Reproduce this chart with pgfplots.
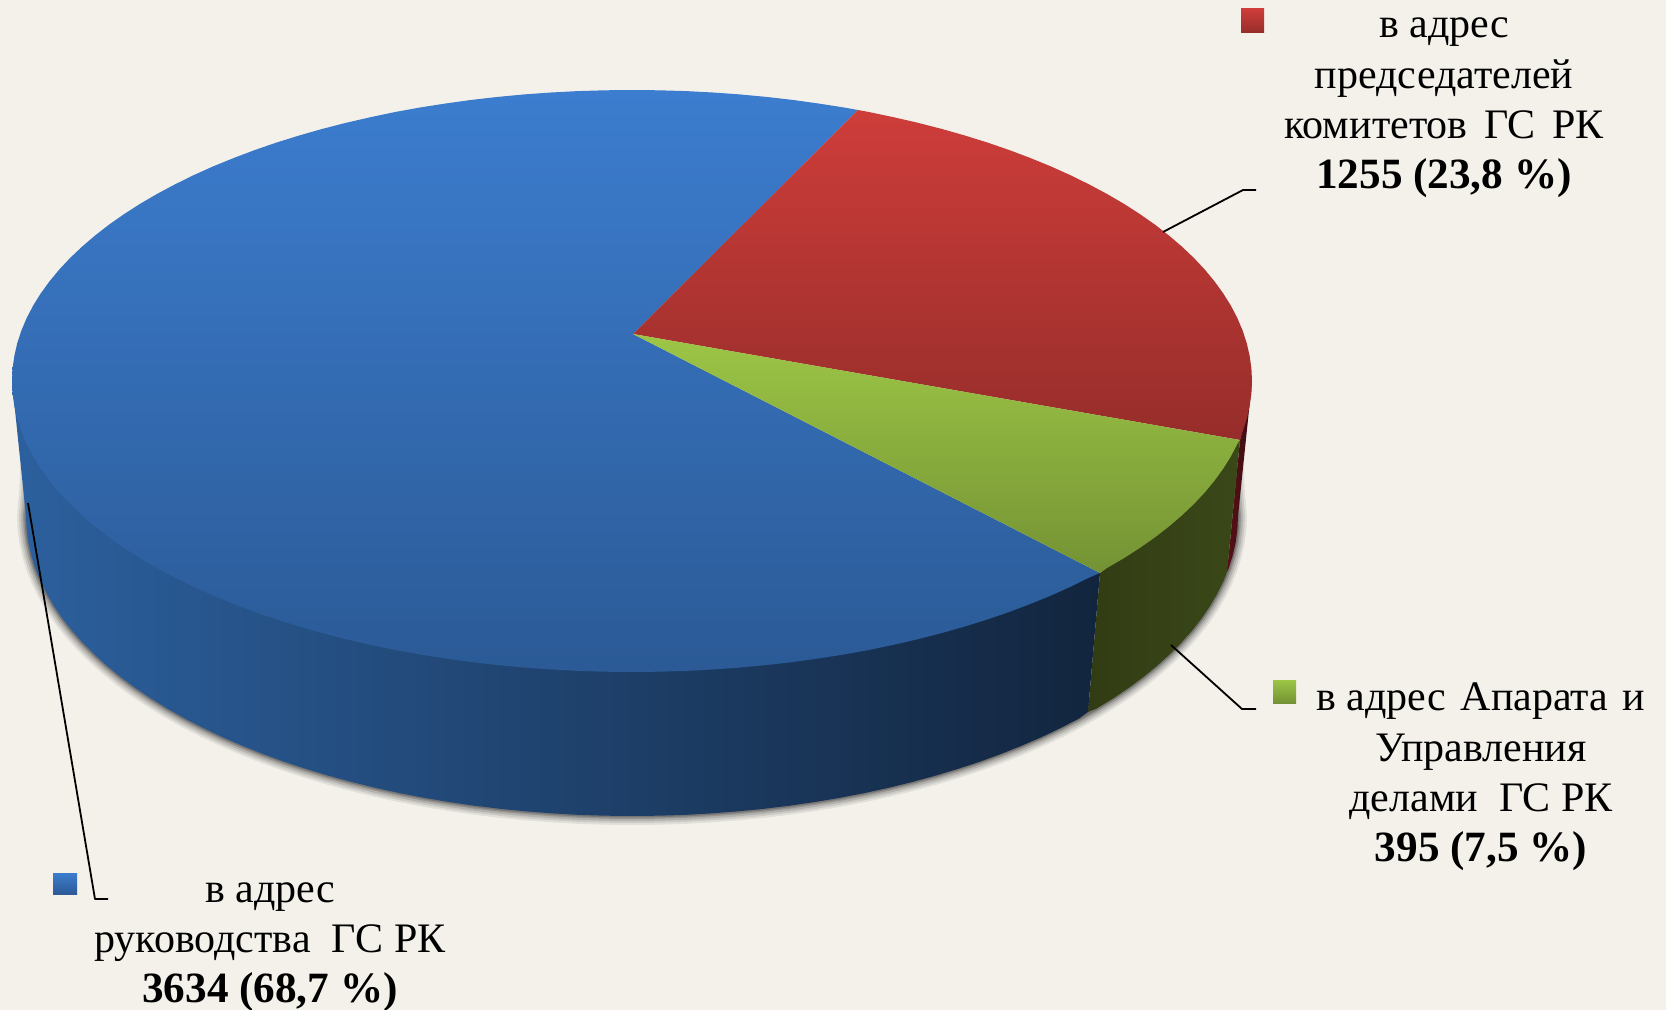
\documentclass[border=0pt]{standalone}
\usepackage{fontspec}
\setmainfont{Liberation Serif}
\usepackage{pgfplots}
\pgfplotsset{compat=1.18}
\definecolor{bgc}{HTML}{F3F1EA}
\newcommand{\lbl}{\fontsize{21}{25.1}\selectfont}
\newcommand{\val}[1]{{\fontsize{21.6}{25.1}\selectfont\bfseries #1}}
\newcommand{\gap}[1][7.3pt]{\hspace{#1}}

% lower edge of the disc in pixels (for the shadow)
\pgfplotstableread{
x y
632 816
658.4 815.7
684.8 814.9
711.1 813.4
737.2 811.4
763.1 808.9
788.8 805.8
814.2 802.1
839.3 797.9
863.9 793.2
888.1 787.9
911.8 782.1
935 775.8
957.6 769
979.6 761.8
1000.9 754
1021.5 745.8
1041.4 737.2
1060.5 728.1
1078.8 718.7
1096.2 708.8
1112.8 698.6
1128.4 688.1
1143.1 677.2
1156.8 666
1169.5 654.5
1181.2 642.8
1191.9 630.8
1201.5 618.6
1209.9 606.2
1217.3 593.6
1223.6 580.9
1228.8 568.1
1232.8 555.2
1235.7 542.2
1237.4 529.1
1238 516
1235.7 489.8
1234.8 464
}\shadowright
\pgfplotstableread{
x y
29.2 464
28.3 489.8
26 516
26.6 529.1
28.3 542.2
31.2 555.2
35.2 568.1
40.4 580.9
46.7 593.6
54.1 606.2
62.5 618.6
72.1 630.8
82.8 642.8
94.5 654.5
107.2 666
120.9 677.2
135.6 688.1
151.2 698.6
167.8 708.8
185.2 718.7
203.5 728.1
222.6 737.2
242.5 745.8
263.1 754
284.4 761.8
306.4 769
329 775.8
352.2 782.1
375.9 787.9
400.1 793.2
424.7 797.9
449.8 802.1
475.2 805.8
500.9 808.9
526.8 811.4
552.9 813.4
579.2 814.9
605.6 815.7
632 816
}\shadowleft

\begin{document}
\begin{tikzpicture}
\begin{axis}[
  scale only axis,
  width=833pt,height=505pt,
  xmin=0,xmax=1666,ymin=0,ymax=1010,
  y dir=reverse,
  ticks=none,
  axis line style={draw=none},
  axis background/.style={fill=bgc},
  clip=false
]
% soft shadow under the disc
\foreach \w/\o in {9pt/0.07,7pt/0.09,5pt/0.12,3pt/0.16,1.5pt/0.2}{
  \edef\temp{\noexpand\addplot[black,line width=\w,opacity=\o,line join=round] table {\noexpand\shadowleft};
    \noexpand\addplot[black,line width=\w,opacity=\o,line join=round] table {\noexpand\shadowright};}
  \temp
}
% side of the disc
\addplot[draw=none,shade,left color={rgb,255:red,88;green,16;blue,22},right color={rgb,255:red,60;green,12;blue,18}] coordinates {
(1240,440)(1227,572)(1228.8,568.1)(1232.8,555.2)(1235.7,542.2)(1237.4,529.1)(1238,516)(1252,381)
};
\addplot[draw=none,shade,left color={rgb,255:red,50;green,60;blue,20},right color={rgb,255:red,58;green,72;blue,24}] coordinates {
(1100,573)(1088,712)(1096.2,708.8)(1112.8,698.6)(1128.4,688.1)(1143.1,677.2)(1156.8,666)(1169.5,654.5)(1181.2,642.8)
(1191.9,630.8)(1201.5,618.6)(1209.9,606.2)(1217.3,593.6)(1223.6,580.9)(1227,572)(1240,440)
};
\addplot[draw=none,shade,left color={rgb,255:red,44;green,96;blue,158},
  middle color={rgb,255:red,27;green,55;blue,94},right color={rgb,255:red,18;green,37;blue,62}] coordinates {
(12,381)(26,516)(26.6,529.1)(28.3,542.2)(31.2,555.2)(35.2,568.1)(40.4,580.9)(46.7,593.6)(54.1,606.2)(62.5,618.6)
(72.1,630.8)(82.8,642.8)(94.5,654.5)(107.2,666)(120.9,677.2)(135.6,688.1)(151.2,698.6)(167.8,708.8)(185.2,718.7)
(203.5,728.1)(222.6,737.2)(242.5,745.8)(263.1,754)(284.4,761.8)(306.4,769)(329,775.8)(352.2,782.1)(375.9,787.9)
(400.1,793.2)(424.7,797.9)(449.8,802.1)(475.2,805.8)(500.9,808.9)(526.8,811.4)(552.9,813.4)(579.2,814.9)(605.6,815.7)
(632,816)(658.4,815.7)(684.8,814.9)(711.1,813.4)(737.2,811.4)(763.1,808.9)(788.8,805.8)(814.2,802.1)(839.3,797.9)
(863.9,793.2)(888.1,787.9)(911.8,782.1)(935,775.8)(957.6,769)(979.6,761.8)(1000.9,754)(1021.5,745.8)(1041.4,737.2)
(1060.5,728.1)(1078.8,718.7)(1088,712)(1100,573)
};
% top face: 3634, 1255, 395
\addplot[draw=none,shade,top color={rgb,255:red,60;green,125;blue,207},bottom color={rgb,255:red,43;green,90;blue,150}] coordinates {
(633,334)(858,110)(844,107.5)(818.4,103.5)(792.5,99.9)(766.2,96.9)(739.6,94.4)(712.9,92.5)(686.1,91.1)(659,90.3)(632,90)
(605,90.3)(577.9,91.1)(551.1,92.5)(524.4,94.4)(497.8,96.9)(471.5,99.9)(445.6,103.5)(420,107.5)(394.7,112.1)(370,117.3)
(345.7,122.9)(322,129)(298.9,135.6)(276.4,142.6)(254.6,150.1)(233.5,158.1)(213.1,166.4)(193.6,175.2)(174.9,184.4)
(157.1,193.9)(140.1,203.8)(124.1,214.1)(109.1,224.6)(95.1,235.5)(82.1,246.6)(70.1,258)(59.2,269.6)(49.4,281.5)
(40.7,293.5)(33.1,305.7)(26.7,318)(21.4,330.5)(17.3,343)(14.4,355.6)(12.6,368.3)(12,381)(12.6,393.7)(14.4,406.4)
(17.3,419)(21.4,431.5)(26.7,444)(33.1,456.3)(40.7,468.5)(49.4,480.5)(59.2,492.4)(70.1,504)(82.1,515.4)(95.1,526.5)
(109.1,537.4)(124.1,547.9)(140.1,558.2)(157.1,568.1)(174.9,577.6)(193.6,586.8)(213.1,595.6)(233.5,603.9)(254.6,611.9)
(276.4,619.4)(298.9,626.4)(322,633)(345.7,639.1)(370,644.7)(394.7,649.9)(420,654.5)(445.6,658.5)(471.5,662.1)
(497.8,665.1)(524.4,667.6)(551.1,669.5)(577.9,670.9)(605,671.7)(632,672)(659,671.7)(686.1,670.9)(712.9,669.5)
(739.6,667.6)(766.2,665.1)(792.5,662.1)(818.4,658.5)(844,654.5)(869.3,649.9)(894,644.7)(918.3,639.1)(942,633)
(965.1,626.4)(987.6,619.4)(1009.4,611.9)(1030.5,603.9)(1050.9,595.6)(1070.4,586.8)(1089.1,577.6)(1100,573)
};
\addplot[draw=none,shade,top color={rgb,255:red,206;green,61;blue,58},bottom color={rgb,255:red,150;green,45;blue,42}] coordinates {
(633,334)(858,110)(869.3,112.1)(894,117.3)(918.3,122.9)(942,129)(965.1,135.6)(987.6,142.6)(1009.4,150.1)(1030.5,158.1)
(1050.9,166.4)(1070.4,175.2)(1089.1,184.4)(1106.9,193.9)(1123.9,203.8)(1139.9,214.1)(1154.9,224.6)(1168.9,235.5)
(1181.9,246.6)(1193.9,258)(1204.8,269.6)(1214.6,281.5)(1223.3,293.5)(1230.9,305.7)(1237.3,318)(1242.6,330.5)
(1246.7,343)(1249.6,355.6)(1251.4,368.3)(1252,381)(1251.4,393.7)(1249.6,406.4)(1246.7,419)(1242.6,431.5)(1240,440)
};
\addplot[draw=none,shade,top color={rgb,255:red,157;green,198;blue,70},bottom color={rgb,255:red,116;green,146;blue,52}] coordinates {
(633,334)(1240,440)(1237.3,444)(1230.9,456.3)(1223.3,468.5)(1214.6,480.5)(1204.8,492.4)(1193.9,504)(1181.9,515.4)
(1168.9,526.5)(1154.9,537.4)(1139.9,547.9)(1123.9,558.2)(1106.9,568.1)(1100,573)
};
% leader lines
\addplot[black,line width=0.9pt,line join=round] coordinates {(1163,232)(1243,190)(1256,190)};
\addplot[black,line width=0.9pt,line join=round] coordinates {(1171,645)(1242,709)(1256,709)};
\addplot[black,line width=0.9pt,line join=round] coordinates {(28,503)(95,899)(108,899)};
% legend keys
\addplot[draw=none,shade,top color={rgb,255:red,206;green,61;blue,58},bottom color={rgb,255:red,150;green,45;blue,42}] coordinates {(1241,9)(1264,9)(1264,33)(1241,33)};
\addplot[draw=none,shade,top color={rgb,255:red,157;green,198;blue,70},bottom color={rgb,255:red,116;green,146;blue,52}] coordinates {(1273,680)(1296,680)(1296,703)(1273,703)};
\addplot[draw=none,shade,top color={rgb,255:red,60;green,125;blue,207},bottom color={rgb,255:red,43;green,90;blue,150}] coordinates {(53,873)(77,873)(77,894)(53,894)};
% labels
\node[overlay,align=center,font=\lbl,inner sep=0pt] at (axis cs:1444,108) {в адрес\\председателей\\комитетов\gap[8.2pt]ГС\gap[8.2pt]РК\\\val{1255 (23,8 \%)}};
\node[overlay,align=center,font=\lbl,inner sep=0pt] at (axis cs:1481,777) {в адрес\gap Апарата\gap и\\Управления\\делами\ \ ГС РК\\\val{395 (7,5 \%)}};
\node[overlay,align=center,font=\lbl,inner sep=0pt] at (axis cs:270,947) {в адрес\\руководства\ \ ГС РК\\\val{3634 (68,7 \%)}};
\end{axis}
\end{tikzpicture}
\end{document}
